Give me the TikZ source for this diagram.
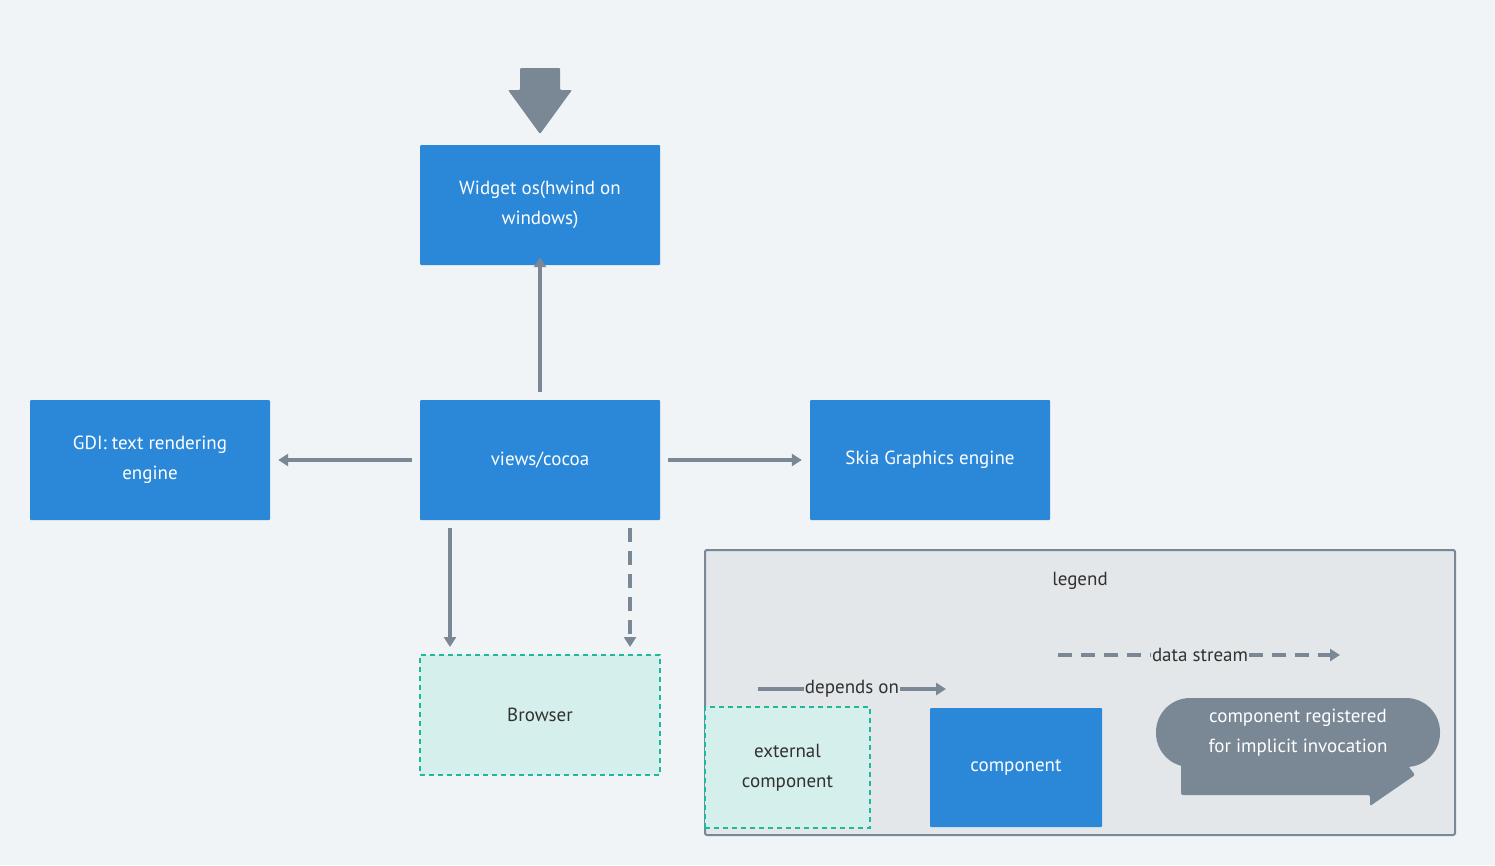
\documentclass[tikz,border=0pt]{standalone}
\usepackage{fontspec}
\setmainfont{PT Sans}
\usetikzlibrary{arrows.meta}
\definecolor{bg}{HTML}{F0F4F7}
\definecolor{blu}{HTML}{2B88D8}
\definecolor{gr}{HTML}{7A8795}
\definecolor{teal}{HTML}{1FB89A}
\definecolor{tfill}{HTML}{D4EFEC}
\definecolor{leg}{HTML}{E3E7EA}
\definecolor{txt}{HTML}{323130}
\begin{document}
\begin{tikzpicture}[x=1pt,y=-1pt,
  box/.style={fill=blu,text=white,minimum width=240pt,minimum height=120pt,align=center,inner sep=0pt,font=\fontsize{19}{30}\selectfont,rounded corners=1pt},
  ext/.style={fill=tfill,draw=teal,dashed,line width=1.5pt,dash pattern=on 5pt off 4pt,text=txt,align=center,inner sep=0pt,font=\fontsize{19}{30}\selectfont},
  con/.style={draw=gr,line width=3.5pt,-{Triangle[length=10pt,width=12pt]}},
  dcon/.style={con,dash pattern=on 14pt off 9pt},
  lbl/.style={text=txt,font=\fontsize{19}{24}\selectfont,inner sep=1pt}]
\fill[bg] (0,0) rectangle (1495,865);
\useasboundingbox (0,0) rectangle (1495,865);
% top arrow
\fill[gr,rounded corners=1pt] (520,68) -- (560,68) -- (560,90) -- (572,90) -- (540,134) -- (508,90) -- (520,90) -- cycle;
\node[box] (w) at (540,205) {Widget os(hwind on\\windows)};
\node[box] (v) at (540,460) {views/cocoa};
\node[box] (g) at (150,460) {GDI: text rendering\\engine};
\node[box] (s) at (930,460) {Skia Graphics engine};
\node[ext,minimum width=240pt,minimum height=120pt] (b) at (540,715) {Browser};
\draw[con] (v.north) ++(0,-8) -- ([yshift=8pt]w.south);
\draw[con] ([xshift=-8pt]v.west) -- ([xshift=8pt]g.east);
\draw[con] ([xshift=8pt]v.east) -- ([xshift=-8pt]s.west);
\coordinate (d1) at (450,528); \coordinate (d1e) at (450,647);
\coordinate (d2) at (630,528); \coordinate (d2e) at (630,647);
\draw[con] (d1) -- (d1e);
\draw[dcon] (d2) -- (d2e);
% legend
\node[draw=gr,fill=leg,line width=2pt,minimum width=750pt,minimum height=285pt,rounded corners=2pt,inner sep=0pt] (L) at (1080,692.5) {};
\node[lbl] (lt) at (1080,581) {legend};
\node[lbl] (ds) at (1200,655) {data stream};
\coordinate (ds0) at (1058,655); \coordinate (ds1) at (1340,655);
\draw[gr,line width=3.5pt,dash pattern=on 14pt off 9pt] (ds0) -- (ds.west);
\draw[dcon] (ds.east) -- (ds1);
\node[lbl] (dp) at (852,689) {depends on};
\coordinate (dp0) at (758,689); \coordinate (dp1) at (946,689);
\draw[gr,line width=3.5pt] (dp0) -- (dp.west);
\draw[con] (dp.east) -- (dp1);
\node[ext,minimum width=165pt,minimum height=121pt] (ec) at (787.5,767.5) {external\\component};
\node[box,minimum width=172pt,minimum height=119pt] (c) at (1016,767.5) {component};
\fill[gr,rounded corners=2pt] (1181,755) -- (1400,755) -- (1415,775) -- (1370,806) -- (1370,795) -- (1181,795) -- cycle;
\node[fill=gr,rounded corners=34pt,minimum width=284pt,minimum height=69pt,inner sep=0pt,text=white,align=center,font=\fontsize{19}{30}\selectfont] (cr) at (1298,732.5) {component registered\\for implicit invocation};
\end{tikzpicture}
\end{document}
